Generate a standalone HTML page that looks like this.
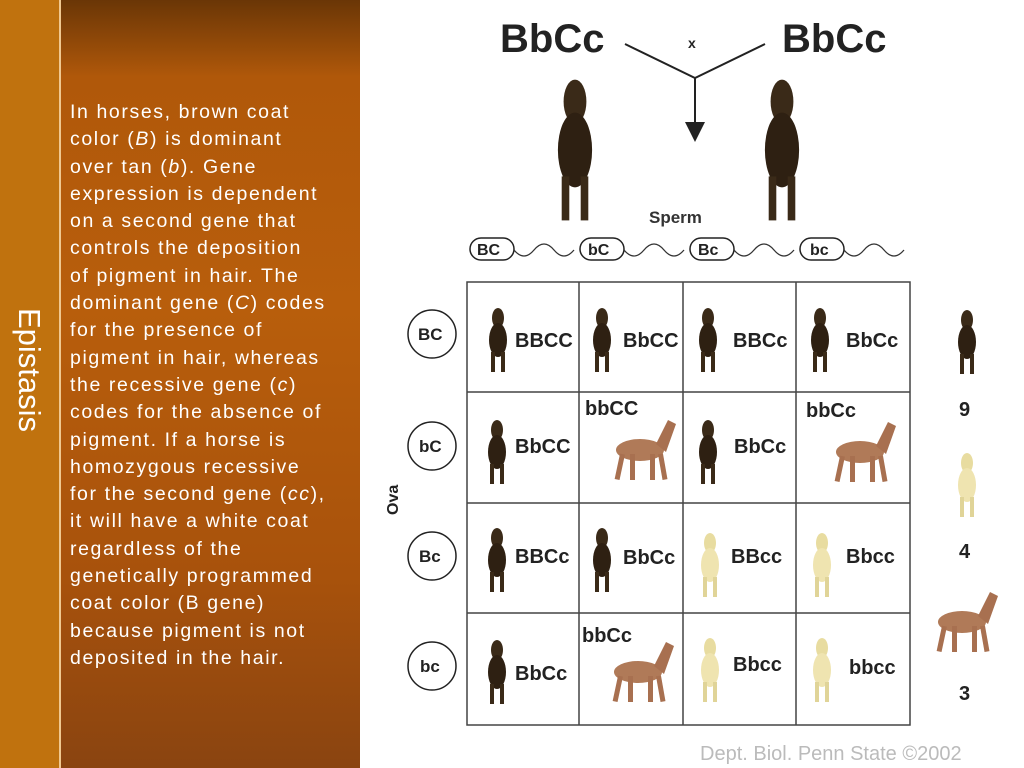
<!DOCTYPE html>
<html><head><style>
body{margin:0;width:1024px;height:768px;overflow:hidden;position:relative;font-family:"Liberation Sans",sans-serif;background:#fff}
#strip{position:absolute;left:0;top:0;width:59px;height:768px;background:#c0720e}
#line{position:absolute;left:59px;top:0;width:2px;height:768px;background:#f0c890}
#panel{position:absolute;left:61px;top:0;width:299px;height:768px;background:linear-gradient(180deg,#6a3606 0%,#b0580a 10%,#b85e0c 40%,#a8520c 75%,#8a4410 100%)}
#ep{position:absolute;left:29px;top:370px;transform:translate(-50%,-50%) rotate(90deg);color:#fff;font-size:31px;white-space:nowrap}
#txt{position:absolute;left:70px;top:99px;color:#fff;font-size:19.5px;letter-spacing:1.6px;line-height:27.3px;white-space:pre}
</style></head><body>
<div id="strip"></div><div id="line"></div><div id="panel"></div>
<div id="ep">Epistasis</div>
<div id="txt">In horses, brown coat
color (<i>B</i>) is dominant
over tan (<i>b</i>). Gene
expression is dependent
on a second gene that
controls the deposition
of pigment in hair. The
dominant gene (<i>C</i>) codes
for the presence of
pigment in hair, whereas
the recessive gene (<i>c</i>)
codes for the absence of
pigment. If a horse is
homozygous recessive
for the second gene (<i>cc</i>),
it will have a white coat
regardless of the
genetically programmed
coat color (B gene)
because pigment is not
deposited in the hair.</div>
<svg width="1024" height="768" style="position:absolute;left:0;top:0" font-family="Liberation Sans, sans-serif" font-weight="bold">
<defs>
<g id="dk"><ellipse cx="0" cy="-22" rx="6" ry="10" fill="#3a2a18"/><ellipse cx="0" cy="0" rx="9" ry="17" fill="#2e2012"/><rect x="-7" y="12" width="4" height="20" fill="#3a2a18"/><rect x="3" y="12" width="4" height="20" fill="#3a2a18"/></g>
<g id="cr"><ellipse cx="0" cy="-22" rx="6" ry="10" fill="#e8dca0"/><ellipse cx="0" cy="0" rx="9" ry="17" fill="#efe4b0"/><rect x="-7" y="12" width="4" height="20" fill="#e0d498"/><rect x="3" y="12" width="4" height="20" fill="#e0d498"/></g>
<g id="tn"><ellipse cx="0" cy="0" rx="24" ry="11" fill="#b07a58"/><path d="M16,-6 L28,-30 L36,-26 L26,2Z" fill="#a87050"/><rect x="-20" y="4" width="5" height="26" fill="#a87050" transform="rotate(12 -18 4)"/><rect x="-10" y="4" width="5" height="26" fill="#a87050"/><rect x="10" y="4" width="5" height="26" fill="#a87050"/><rect x="18" y="4" width="5" height="26" fill="#a87050" transform="rotate(-10 20 4)"/></g>
</defs>
<text x="500" y="52" font-size="40" fill="#222">BbCc</text>
<text x="782" y="52" font-size="40" fill="#222">BbCc</text>
<text x="688" y="48" font-size="14" fill="#222">x</text>
<path d="M625,44 L695,78 L765,44 M695,78 L695,132" stroke="#222" stroke-width="2" fill="none"/>
<path d="M685,122 L695,142 L705,122Z" fill="#222"/>
<g transform="translate(575,150) scale(1.9,2.2)"><use href="#dk"/></g>
<g transform="translate(782,150) scale(1.9,2.2)"><use href="#dk"/></g>
<text x="649" y="223" font-size="17" fill="#333">Sperm</text>
<g font-size="16" fill="#222" stroke-width="1.5">
<rect x="470" y="238" width="44" height="22" rx="11" fill="none" stroke="#222"/><text x="477" y="255">BC</text>
<rect x="580" y="238" width="44" height="22" rx="11" fill="none" stroke="#222"/><text x="588" y="255">bC</text>
<rect x="690" y="238" width="44" height="22" rx="11" fill="none" stroke="#222"/><text x="698" y="255">Bc</text>
<rect x="800" y="238" width="44" height="22" rx="11" fill="none" stroke="#222"/><text x="810" y="255">bc</text>
</g>
<g stroke="#333" fill="none" stroke-width="1.3">
<path d="M514,250 q10,12 20,0 t20,0 t20,0"/><path d="M624,250 q10,12 20,0 t20,0 t20,0"/><path d="M734,250 q10,12 20,0 t20,0 t20,0"/><path d="M844,250 q10,12 20,0 t20,0 t20,0"/>
</g>
<g stroke="#444" stroke-width="1.5" fill="none">
<rect x="467" y="282" width="443" height="443"/>
<path d="M579,282V725M683,282V725M796,282V725M467,392H910M467,503H910M467,613H910"/>
</g>
<g fill="none" stroke="#222" stroke-width="1.5">
<circle cx="432" cy="334" r="24"/><circle cx="432" cy="446" r="24"/><circle cx="432" cy="556" r="24"/><circle cx="432" cy="666" r="24"/>
</g>
<g font-size="17" fill="#222"><text x="418" y="340">BC</text><text x="419" y="452">bC</text><text x="419" y="562">Bc</text><text x="420" y="672">bc</text></g>
<text transform="translate(398,515) rotate(-90)" font-size="16" fill="#222">Ova</text>
<g font-size="20" fill="#222">
<text x="515" y="347">BBCC</text><text x="623" y="347">BbCC</text><text x="733" y="347">BBCc</text><text x="846" y="347">BbCc</text>
<text x="515" y="453">BbCC</text><text x="585" y="415">bbCC</text><text x="734" y="453">BbCc</text><text x="806" y="417">bbCc</text>
<text x="515" y="563">BBCc</text><text x="623" y="564">BbCc</text><text x="731" y="563">BBcc</text><text x="846" y="563">Bbcc</text>
<text x="515" y="680">BbCc</text><text x="582" y="642">bbCc</text><text x="733" y="671">Bbcc</text><text x="849" y="674">bbcc</text>
<text x="959" y="416">9</text><text x="959" y="558">4</text><text x="959" y="700">3</text>
</g>
<use href="#dk" x="498" y="340"/><use href="#dk" x="602" y="340"/><use href="#dk" x="708" y="340"/><use href="#dk" x="820" y="340"/>
<use href="#dk" x="497" y="452"/><use href="#dk" x="708" y="452"/><use href="#dk" x="497" y="560"/><use href="#dk" x="602" y="560"/>
<use href="#dk" x="497" y="672"/><use href="#dk" x="967" y="342"/>
<use href="#cr" x="710" y="565"/><use href="#cr" x="822" y="565"/><use href="#cr" x="710" y="670"/><use href="#cr" x="822" y="670"/><use href="#cr" x="967" y="485"/>
<use href="#tn" x="640" y="450"/><use href="#tn" x="860" y="452"/><use href="#tn" x="638" y="672"/><use href="#tn" x="962" y="622"/>
<text x="700" y="760" font-size="20" font-weight="normal" fill="#bbb">Dept. Biol. Penn State ©2002</text>
</svg>
</body></html>
